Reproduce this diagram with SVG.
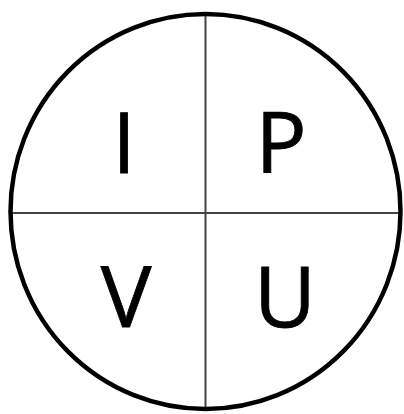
<svg xmlns="http://www.w3.org/2000/svg" width="404" height="414" viewBox="0 0 404 414">
<style>
.lbl{font-family:"Open Sans","Liberation Sans",Arial,sans-serif;font-size:85px;fill:#000;stroke:#000;stroke-width:0.8;text-anchor:middle}
.div{stroke:#444;stroke-width:2;fill:none}
</style>
<rect width="404" height="414" fill="#fff"/>
<g id="connectors">
<line class="div" x1="205.5" y1="14" x2="205.5" y2="409"/>
<line class="div" x1="10" y1="213" x2="400" y2="213"/>
</g>
<g id="circle"><ellipse cx="205.5" cy="211.5" rx="195" ry="197.5" fill="none" stroke="#000" stroke-width="4.5"/></g>
<g id="node-I"><text class="lbl" x="124" y="173">I</text></g>
<g id="node-P"><text class="lbl" x="281" y="173">P</text></g>
<g id="node-V"><text class="lbl" x="126" y="327">V</text></g>
<g id="node-U"><text class="lbl" x="285" y="327">U</text></g>
</svg>
